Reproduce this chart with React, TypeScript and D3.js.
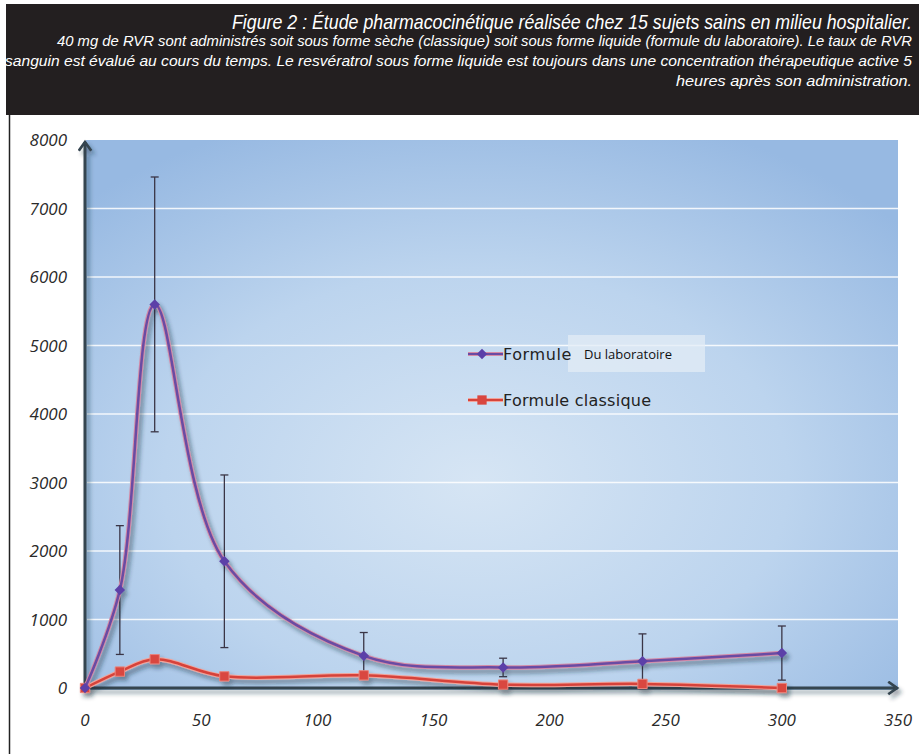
import React from 'react';
import * as d3 from 'd3';

// sampling times (minutes)
const times = [0, 15, 30, 60, 120, 180, 240, 300];
// liquid form (laboratory formula) with its error bars
const formuleLabo = [0, 1430, 5600, 1850, 470, 300, 390, 510];
const formuleLaboErr = [0, 940, 1860, 1260, 340, 135, 400, 395];
// dry form (classic formula)
const formuleClassique = [0, 240, 420, 170, 185, 50, 60, 0];

const yTicks = [0, 1000, 2000, 3000, 4000, 5000, 6000, 7000, 8000];
const xTicks = [0, 50, 100, 150, 200, 250, 300, 350];

const title = 'Figure 2 : Étude pharmacocinétique réalisée chez 15 sujets sains en milieu hospitalier.';
const subtitle = [
  '40 mg de RVR sont administrés soit sous forme sèche (classique) soit sous forme liquide (formule du laboratoire). Le taux de RVR',
  'sanguin est évalué au cours du temps. Le resvératrol sous forme liquide est toujours dans une concentration thérapeutique active 5',
  'heures après son administration.',
];
const subtitleWidths = [855, 907, 236];

const W = 919, H = 755;
const plot = { left: 85, right: 898, top: 140, bottom: 688 };

const headerFont = '"Liberation Sans", "Noto Sans", sans-serif';
const tickFont = '"Open Sans", "Noto Sans", sans-serif';
// the header font is condensed: squeeze horizontally
const squeeze = 0.82;

export default function App() {
  const x = d3.scaleLinear().domain([0, 350]).range([plot.left, plot.right]);
  const y = d3.scaleLinear().domain([0, 8000]).range([plot.bottom, plot.top]);

  const line = d3.line<number>()
    .x((_, i) => x(times[i]))
    .y(d => y(d))
    .curve(d3.curveCatmullRom.alpha(0.5));

  const diamond = d3.symbol().type(d3.symbolDiamond2).size(70)();
  const square = d3.symbol().type(d3.symbolSquare2).size(110)();

  return (
    <svg width={W} height={H} style={{ position: 'absolute', left: 0, top: 0, background: '#fff' }}>
      <defs>
        <radialGradient id="bg" cx="48%" cy="62%" r="70%">
          <stop offset="0%" stopColor="#d6e5f4" />
          <stop offset="55%" stopColor="#bcd4ee" />
          <stop offset="100%" stopColor="#97b9e2" />
        </radialGradient>
        <filter id="shadow" x="-10%" y="-10%" width="130%" height="130%">
          <feDropShadow dx="3" dy="4" stdDeviation="2" floodColor="#1c2b3c" floodOpacity="0.45" />
        </filter>
        <marker id="arrow" viewBox="0 0 12 12" refX="9" refY="6" markerWidth="5" markerHeight="5" orient="auto">
          <path d="M2,1 L9,6 L2,11" fill="none" stroke="#34444f" strokeWidth="2.2" />
        </marker>
      </defs>

      {/* header band */}
      <rect x={6} y={4} width={W - 6} height={111} fill="#231f20" />
      <g transform={`translate(912,29) scale(${squeeze},1)`}>
        <text x={0} y={0} textAnchor="end" fill="#fff" fontFamily={headerFont} fontStyle="italic"
          fontSize={21} textLength={680 / squeeze} lengthAdjust="spacingAndGlyphs">{title}</text>
      </g>
      {subtitle.map((s, i) => (
        <g key={i} transform={`translate(912,${46 + i * 20}) scale(${squeeze},1)`}>
          <text x={0} y={0} textAnchor="end" fill="#fff" fontFamily={headerFont}
            fontStyle="italic" fontSize={14} textLength={subtitleWidths[i] / squeeze} lengthAdjust="spacingAndGlyphs">{s}</text>
        </g>
      ))}

      {/* frame line */}
      <line x1={9.5} x2={9.5} y1={115} y2={754} stroke="#222" strokeWidth={1.5} />

      {/* plot background */}
      <rect x={plot.left + 1} y={plot.top} width={plot.right - plot.left - 1} height={plot.bottom - plot.top + 2}
        fill="url(#bg)" />
      {yTicks.slice(1, -1).map(t => (
        <line key={t} x1={plot.left + 2} x2={plot.right} y1={y(t)} y2={y(t)} stroke="#fff" strokeOpacity={0.85} strokeWidth={1.5} />
      ))}

      {/* axes */}
      <g filter="url(#shadow)">
        <line x1={plot.left} x2={plot.left} y1={plot.bottom + 1} y2={plot.top + 2} stroke="#34444f" strokeWidth={3} markerEnd="url(#arrow)" />
        <line x1={plot.left} x2={plot.right - 1} y1={plot.bottom} y2={plot.bottom} stroke="#34444f" strokeWidth={3} markerEnd="url(#arrow)" />
      </g>

      {yTicks.map(t => (
        <text key={t} x={67} y={y(t) + 6} textAnchor="end" fontFamily={tickFont} fontStyle="italic" fontSize={17} fill="#2a2a2a">{t}</text>
      ))}
      {xTicks.map(t => (
        <text key={t} x={x(t)} y={726} textAnchor="middle" fontFamily={tickFont} fontStyle="italic" fontSize={17} fill="#2a2a2a">{t}</text>
      ))}

      {/* error bars */}
      <g stroke="#3a3546" strokeWidth={1.3}>
        {times.map((t, i) => formuleLaboErr[i] > 0 && (
          <g key={t}>
            <line x1={x(t)} x2={x(t)} y1={y(formuleLabo[i] + formuleLaboErr[i])} y2={y(formuleLabo[i] - formuleLaboErr[i])} />
            <line x1={x(t) - 4} x2={x(t) + 4} y1={y(formuleLabo[i] + formuleLaboErr[i])} y2={y(formuleLabo[i] + formuleLaboErr[i])} />
            <line x1={x(t) - 4} x2={x(t) + 4} y1={y(formuleLabo[i] - formuleLaboErr[i])} y2={y(formuleLabo[i] - formuleLaboErr[i])} />
          </g>
        ))}
      </g>

      {/* series */}
      <g filter="url(#shadow)">
        <path d={line(formuleClassique) || ''} fill="none" stroke="#f2a39a" strokeWidth={4.5} />
        <path d={line(formuleClassique) || ''} fill="none" stroke="#d6433a" strokeWidth={2.5} />
        {formuleClassique.map((v, i) => (
          <path key={i} d={square || ''} transform={`translate(${x(times[i])},${y(v)})`} fill="#d9463f" stroke="#e9837a" strokeWidth={1} />
        ))}
        <path d={line(formuleLabo) || ''} fill="none" stroke="#d48aa6" strokeWidth={4.5} />
        <path d={line(formuleLabo) || ''} fill="none" stroke="#6a4ba3" strokeWidth={2.5} />
        {formuleLabo.map((v, i) => (
          <path key={i} d={diamond || ''} transform={`translate(${x(times[i])},${y(v)})`} fill="#5b3fa8" />
        ))}
      </g>

      {/* legend */}
      <rect x={568} y={335} width={137} height={37} fill="#e3ecf6" fillOpacity={0.75} />
      <line x1={468} x2={503} y1={354} y2={354} stroke="#d48aa6" strokeWidth={4} />
      <line x1={468} x2={503} y1={354} y2={354} stroke="#6a4ba3" strokeWidth={2} />
      <path d={diamond || ''} transform="translate(482,354)" fill="#5b3fa8" />
      <text x={503} y={360} fontFamily='"DejaVu Sans", sans-serif' fontSize={16} fill="#222" letterSpacing={0.6}>Formule</text>
      <text x={584} y={359} fontFamily='"Open Sans", sans-serif' fontSize={13} fill="#111">Du laboratoire</text>
      <line x1={468} x2={503} y1={400} y2={400} stroke="#f2a39a" strokeWidth={4} />
      <line x1={468} x2={503} y1={400} y2={400} stroke="#d6433a" strokeWidth={2} />
      <path d={square || ''} transform="translate(482,400)" fill="#d9463f" />
      <text x={503} y={406} fontFamily='"DejaVu Sans", sans-serif' fontSize={16} fill="#222" textLength={148} lengthAdjust="spacing">Formule classique</text>
    </svg>
  );
}
